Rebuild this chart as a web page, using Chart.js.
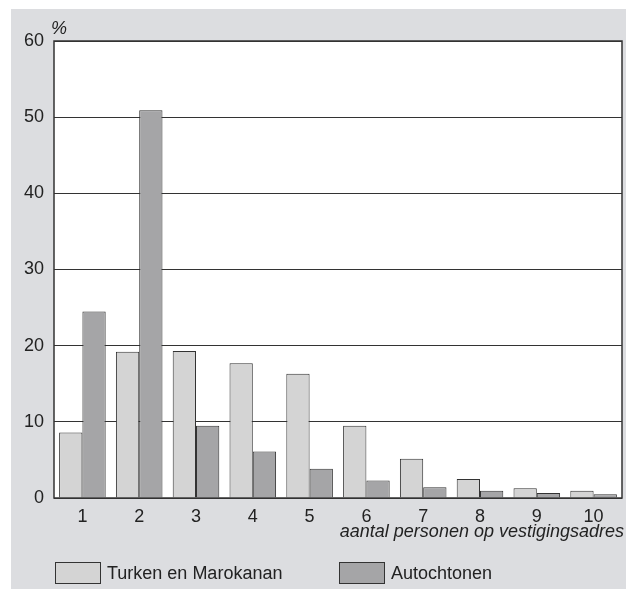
<!DOCTYPE html>
<html>
<head>
<meta charset="utf-8">
<script src="https://cdn.jsdelivr.net/npm/chart.js@4"></script>
<style>
  html, body { margin: 0; padding: 0; background: #fff; }
  #wrap { position: relative; width: 626px; height: 589px; }
  canvas { position: absolute; left: 0; top: 0; }
  .legend-item { position: absolute; top: 562px; height: 22px; display: flex; align-items: center;
    font-family: 'Liberation Sans', Arial, sans-serif; font-size: 18px; color: #222; }
  .legend-box { width: 44px; height: 20px; border: 1px solid #333; margin-right: 6px; }
</style>
</head>
<body>
<div id="wrap">
  <canvas id="chart" width="626" height="589"></canvas>
  <div class="legend-item" style="left:55px"><div class="legend-box" style="background:#d4d4d4"></div>Turken en Marokanan</div>
  <div class="legend-item" style="left:339px"><div class="legend-box" style="background:#a5a5a7"></div>Autochtonen</div>
</div>
<script>
// categories: household size at business address
const categories = ['1', '2', '3', '4', '5', '6', '7', '8', '9', '10'];
const turkenMarokanen = [8.6, 19.2, 19.3, 17.7, 16.3, 9.5, 5.15, 2.5, 1.27, 0.95];
const autochtonen = [24.5, 50.9, 9.5, 6.1, 3.85, 2.3, 1.4, 0.95, 0.65, 0.48];
const yTicks = [0, 10, 20, 30, 40, 50, 60];

const FONT = "'Liberation Sans', Arial, sans-serif";

// gray page, white plot area, frame and the loose axis texts
const framePlugin = {
    id: 'frame',
    beforeDraw(chart) {
        const { ctx, chartArea: a } = chart;
        ctx.save();
        ctx.fillStyle = '#dcdde0';
        ctx.fillRect(11, 9, 615, 580);
        ctx.fillStyle = '#ffffff';
        ctx.fillRect(a.left, a.top, a.right - a.left, a.bottom - a.top);
        ctx.restore();
    },
    afterDraw(chart) {
        const { ctx, chartArea: a } = chart;
        ctx.save();
        ctx.strokeStyle = '#333';
        ctx.lineWidth = 1.5;
        ctx.strokeRect(a.left, a.top, a.right - a.left, a.bottom - a.top);
        ctx.fillStyle = '#222';
        ctx.font = 'italic 18px ' + FONT;
        ctx.textBaseline = 'alphabetic';
        ctx.textAlign = 'left';
        ctx.fillText('%', 51, 34);
        ctx.textAlign = 'right';
        ctx.fillText('aantal personen op vestigingsadres', 624, 537);
        ctx.restore();
    }
};

new Chart(document.getElementById('chart'), {
    type: 'bar',
    data: {
        labels: categories,
        datasets: [
            {
                label: 'Turken en Marokanan',
                data: turkenMarokanen,
                backgroundColor: '#d4d4d4',
                borderColor: '#333',
                borderWidth: 1,
                borderSkipped: 'bottom'
            },
            {
                label: 'Autochtonen',
                data: autochtonen,
                backgroundColor: '#a5a5a7',
                borderColor: '#333',
                borderWidth: 1,
                borderSkipped: 'bottom'
            }
        ]
    },
    options: {
        responsive: false,
        animation: false,
        layout: { padding: { top: 41, right: 4, left: 0, bottom: 0 } },
        categoryPercentage: 0.82,
        barPercentage: 1,
        plugins: {
            legend: { display: false },
            tooltip: { enabled: false }
        },
        scales: {
            x: {
                grid: { display: false, drawTicks: false },
                border: { display: false },
                ticks: { color: '#222', font: { family: FONT, size: 18 }, padding: 8 },
                afterFit: (s) => { s.height = 91; }
            },
            y: {
                min: 0,
                max: 60,
                afterBuildTicks: (s) => { s.ticks = yTicks.map(v => ({ value: v })); },
                grid: { color: '#333', lineWidth: 1, drawTicks: false },
                border: { display: false },
                ticks: { color: '#222', font: { family: FONT, size: 18 }, padding: 10 },
                afterFit: (s) => { s.width = 54; }
            }
        }
    },
    plugins: [framePlugin]
});
</script>
</body>
</html>
